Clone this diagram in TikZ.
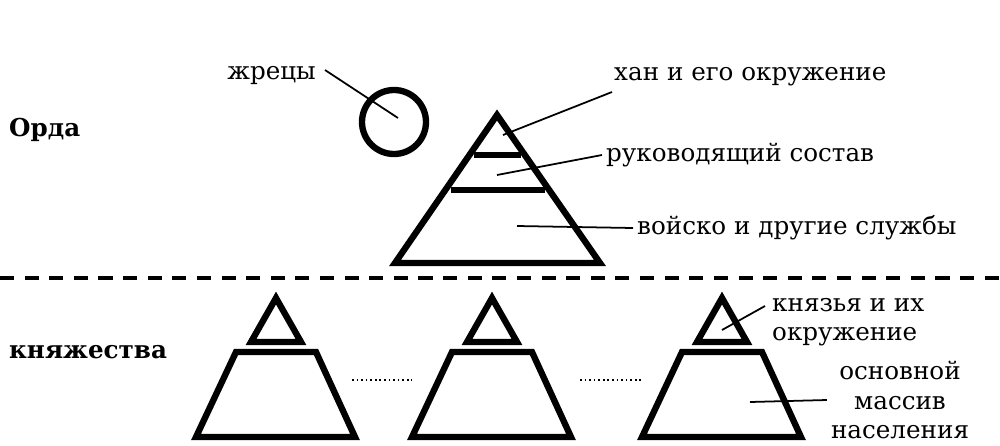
\documentclass[tikz,border=0pt]{standalone}
\usepackage{fontspec}
\setmainfont{DejaVu Serif}
\begin{document}
\begin{tikzpicture}[x=0.01cm, y=-0.01cm,
  figure/.style={line width=1.8pt, line join=miter},
  pointer/.style={line width=0.5pt},
  label/.style={font=\fontsize{7}{8.4}\selectfont, inner sep=1pt}]
\useasboundingbox (0,0) rectangle (1000,445);

% Orda
\node [label, font=\fontsize{7}{8.4}\selectfont\bfseries, anchor=west] (orda) at (5,130) {Орда};
\draw [figure] (497,115) -- (600,263) -- (395,263) -- cycle;
\draw [figure] (474,155) -- (521,155);
\draw [figure] (451,190) -- (545,190);
\draw [figure] (394,122) circle (32);

\node [label, anchor=east] (priests) at (320,75) {жрецы};
\coordinate (priestsin) at (398,118);
\draw [pointer] (325,70) -- (priestsin);

\node [label, anchor=west] (khan) at (610,77) {хан и его окружение};
\coordinate (khanin) at (503,135);
\draw [pointer] (612,92) -- (khanin);

\node [label, anchor=west] (leaders) at (602,155) {руководящий состав};
\coordinate (leadersin) at (497,175);
\draw [pointer] (leaders.west) -- (leadersin);

\node [label, anchor=west] (army) at (633,228) {войско и другие службы};
\coordinate (armyin) at (517,226);
\draw [pointer] (army.west) -- (armyin);

\draw [line width=1pt, dash pattern=on 4pt off 3pt] (0,278) -- (1000,278);

% principalities
\node [label, font=\fontsize{7}{8.4}\selectfont\bfseries, anchor=west] (princ) at (5,352) {княжества};
\foreach \cx in {276, 492, 722} {
  \draw [figure] (\cx,298) -- (\cx+25,342) -- (\cx-25,342) -- cycle;
  \draw [figure] (\cx-40,352) -- (\cx+40,352) -- (\cx+79,437) -- (\cx-80,437) -- cycle;
}
\draw [line width=0.6pt, dash pattern=on 0.5pt off 0.8pt] (352,380) -- (412,380);
\draw [line width=0.6pt, dash pattern=on 0.5pt off 0.8pt] (580,380) -- (642,380);

\node [label, align=left, anchor=west] (princes) at (768,322) {князья и их\\окружение};
\coordinate (princesin) at (722,330);
\draw [pointer] (765,306) -- (princesin);

\node [label, align=center] (mass) at (900,400) {основной\\массив\\населения};
\coordinate (massin) at (750,402);
\draw [pointer] (mass.west) -- (massin);
\end{tikzpicture}
\end{document}
